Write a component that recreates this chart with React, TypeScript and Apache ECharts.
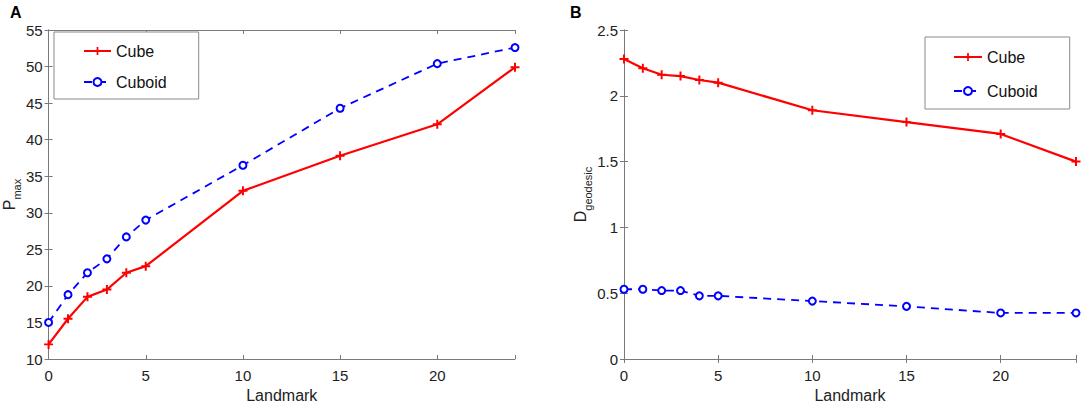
import React, { useEffect, useRef } from "react";
import * as echarts from "echarts";

const landmarks = [0, 1, 2, 3, 4, 5, 10, 15, 20, 24];
const pmaxCube = [12, 15.5, 18.5, 19.5, 21.8, 22.7, 33, 37.8, 42.1, 49.9];
const pmaxCuboid = [15, 18.8, 21.8, 23.7, 26.7, 29, 36.5, 44.3, 50.4, 52.6];
const geoCube = [2.28, 2.21, 2.16, 2.15, 2.12, 2.1, 1.89, 1.8, 1.71, 1.5];
const geoCuboid = [0.53, 0.53, 0.52, 0.52, 0.48, 0.48, 0.44, 0.4, 0.35, 0.35];
const seriesNames = ["Cube", "Cuboid"];

const FONT = "Liberation Sans, Arial, sans-serif";
const AXIS_COLOR = "#7a7a7a";
const PLUS = "path://M3.9,0h2.2v3.9h3.9v2.2h-3.9v3.9h-2.2v-3.9h-3.9v-2.2h3.9z";

export default function App() {
  const ref = useRef<HTMLDivElement>(null);
  useEffect(() => {
    if (!ref.current) return;
    const chart = echarts.init(ref.current, null, { renderer: "svg" });
    const pairs = (ys: number[]) => landmarks.map((x, i) => [x, ys[i]]);

    const xCommon = (gridIndex: number, position: "bottom" | "top", main: boolean) => ({
      type: "value",
      gridIndex,
      position,
      min: 0,
      max: 24,
      interval: 5,
      splitLine: { show: false },
      axisLine: { show: true, lineStyle: { color: AXIS_COLOR, width: 1 } },
      axisTick: { show: true, inside: true, length: 4, lineStyle: { color: AXIS_COLOR } },
      axisLabel: {
        show: main,
        color: "#222",
        fontSize: 15,
        fontFamily: FONT,
        margin: 9,
        formatter: (v: number) => (v === 24 ? "" : String(v)),
      },
      name: main ? "Landmark" : "",
      nameLocation: "middle",
      nameGap: 28,
      nameTextStyle: { color: "#222", fontSize: 16, fontFamily: FONT },
    });

    const yCommon = (
      gridIndex: number,
      position: "left" | "right",
      main: boolean,
      min: number,
      max: number,
      interval: number,
      name: string,
      nameGap: number
    ) => ({
      type: "value",
      gridIndex,
      position,
      min,
      max,
      interval,
      splitLine: { show: false },
      axisLine: { show: true, lineStyle: { color: AXIS_COLOR, width: 1 } },
      axisTick: { show: true, inside: true, length: 4, lineStyle: { color: AXIS_COLOR } },
      axisLabel: { show: main, color: "#222", fontSize: 15, fontFamily: FONT, margin: 6 },
      name: main ? name : "",
      nameLocation: "middle",
      nameGap,
      nameRotate: 90,
      nameTextStyle: {
        color: "#222",
        fontFamily: FONT,
        rich: {
          a: { fontSize: 16, fontFamily: FONT, color: "#222" },
          b: { fontSize: 11, fontFamily: FONT, color: "#222", verticalAlign: "bottom", padding: [0, 0, -5, 0] },
        },
      },
    });

    const cubeSeries = (data: number[], xi: number, yi: number) => ({
      name: "Cube",
      type: "line",
      xAxisIndex: xi,
      yAxisIndex: yi,
      data: pairs(data),
      symbol: PLUS,
      symbolSize: 9,
      showAllSymbol: true,
      lineStyle: { color: "#ff0000", width: 2.2 },
      itemStyle: { color: "#ff0000" },
    });
    const cuboidSeries = (data: number[], xi: number, yi: number) => ({
      name: "Cuboid",
      type: "line",
      xAxisIndex: xi,
      yAxisIndex: yi,
      data: pairs(data),
      symbol: "emptyCircle",
      symbolSize: 7,
      showAllSymbol: true,
      lineStyle: { color: "#0000ff", width: 1.8, type: [8, 6] },
      itemStyle: { color: "#0000ff", borderColor: "#0000ff", borderWidth: 1.8 },
    });

    const legendCommon = {
      orient: "vertical",
      data: seriesNames,
      backgroundColor: "#fff",
      borderColor: "#8a8a8a",
      borderWidth: 1,
      itemHeight: 10,
      textStyle: { color: "#111", fontSize: 16, fontFamily: FONT },
    };

    chart.setOption({
      animation: false,
      textStyle: { fontFamily: FONT },
      grid: [
        { left: 48, right: 569, top: 30, bottom: 53, show: false },
        { left: 624, right: 8, top: 30, bottom: 53, show: false },
      ],
      xAxis: [
        xCommon(0, "bottom", true),
        xCommon(0, "top", false),
        xCommon(1, "bottom", true),
        xCommon(1, "top", false),
      ],
      yAxis: [
        yCommon(0, "left", true, 10, 55, 5, "{a|P}{b|max}", 25),
        yCommon(0, "right", false, 10, 55, 5, "", 0),
        yCommon(1, "left", true, 0, 2.5, 0.5, "{a|D}{b|geodesic}", 35),
        yCommon(1, "right", false, 0, 2.5, 0.5, "", 0),
      ],
      legend: [
        { ...legendCommon, left: 54, top: 32, itemWidth: 27, itemGap: 15, padding: [11, 32, 9, 29] },
        { ...legendCommon, left: 925, top: 37, itemWidth: 28, itemGap: 18, padding: [12, 32, 10, 28] },
      ],
      graphic: [
        { type: "text", left: 10, top: 4, style: { text: "A", fontSize: 16, fontWeight: "bold", fontFamily: FONT, fill: "#000" } },
        { type: "text", left: 570, top: 4, style: { text: "B", fontSize: 16, fontWeight: "bold", fontFamily: FONT, fill: "#000" } },
      ],
      series: [
        cubeSeries(pmaxCube, 0, 0),
        cuboidSeries(pmaxCuboid, 0, 0),
        cubeSeries(geoCube, 2, 2),
        cuboidSeries(geoCuboid, 2, 2),
      ],
    });
    return () => chart.dispose();
  }, []);
  return <div ref={ref} style={{ position: "absolute", left: 0, top: 0, width: 1084, height: 412 }} />;
}
